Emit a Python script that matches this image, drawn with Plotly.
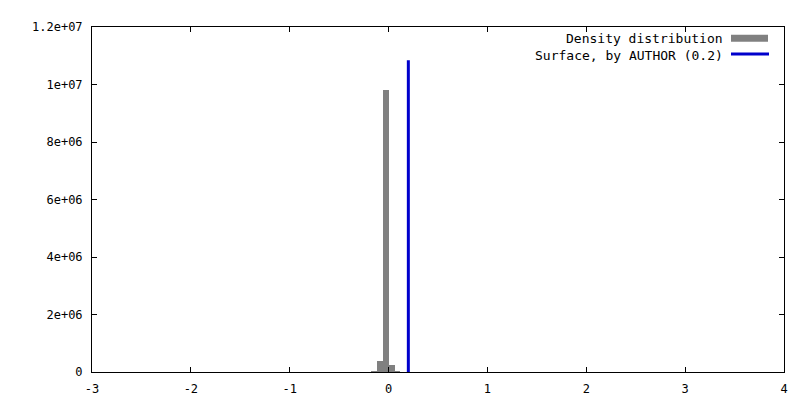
import plotly.graph_objects as go

# Histogram data (bin centers, counts)
bin_centers = [-0.15, -0.09, -0.03, 0.03, 0.09]
bin_counts = [3.0e4, 4.0e5, 9.81e6, 2.4e5, 3.0e4]
bin_width = 0.06

# Surface marker line
surface_x = [0.2, 0.2]
surface_y = [0, 1.084e7]

x_ticks = [-3, -2, -1, 0, 1, 2, 3, 4]
x_tick_labels = ["-3", "-2", "-1", "0", "1", "2", "3", "4"]
y_ticks = [0, 2e6, 4e6, 6e6, 8e6, 1e7, 1.2e7]
y_tick_labels = ["0", "2e+06", "4e+06", "6e+06", "8e+06", "1e+07", "1.2e+07"]

legend_labels = ["Density distribution", "Surface, by AUTHOR (0.2)"]

FONT = "DejaVu Sans Mono"

fig = go.Figure()
fig.add_trace(go.Bar(x=bin_centers, y=bin_counts, width=[bin_width] * len(bin_centers),
                     marker=dict(color="#808080", line=dict(width=0)),
                     showlegend=False, name=legend_labels[0]))
fig.add_trace(go.Scatter(x=surface_x, y=surface_y, mode="lines",
                         line=dict(color="#0000cc", width=3),
                         showlegend=False, name=legend_labels[1]))

W, H = 800, 400
ml, mr, mt, mb = 84, 24, 16, 33
pw, ph = W - ml - mr, H - mt - mb

def px(x):
    return (x - ml) / pw

def py(y):
    return 1 - (y - mt) / ph

annotations = []
shapes = []
# legend row 1
annotations.append(dict(text=legend_labels[0], x=px(717), y=py(28), xref="paper", yref="paper",
                        xanchor="right", yanchor="middle", showarrow=False,
                        font=dict(family=FONT, size=13, color="black")))
shapes.append(dict(type="rect", xref="paper", yref="paper", x0=px(723), x1=px(760),
                   y0=py(31), y1=py(24), fillcolor="#808080", line=dict(width=0)))
# legend row 2
annotations.append(dict(text=legend_labels[1], x=px(717), y=py(44.5), xref="paper", yref="paper",
                        xanchor="right", yanchor="middle", showarrow=False,
                        font=dict(family=FONT, size=13, color="black")))
shapes.append(dict(type="line", xref="paper", yref="paper", x0=px(723), x1=px(761),
                   y0=py(43.5), y1=py(43.5), line=dict(color="#0000cc", width=3)))

fig.update_layout(
    width=W, height=H,
    margin=dict(l=ml, r=mr, t=mt, b=mb),
    paper_bgcolor="white", plot_bgcolor="white",
    bargap=0,
    font=dict(family=FONT, size=12, color="black"),
    annotations=annotations,
    shapes=shapes,
    xaxis=dict(range=[-3, 4], tickvals=x_ticks, ticktext=x_tick_labels,
               showgrid=False, zeroline=False, showline=True, linecolor="black", linewidth=1,
               mirror="allticks", ticks="inside", ticklen=5, tickcolor="black",
               ticklabelstandoff=6,
               tickfont=dict(family=FONT, size=12)),
    yaxis=dict(range=[0, 1.2e7], tickvals=y_ticks, ticktext=y_tick_labels,
               showgrid=False, zeroline=False, showline=True, linecolor="black", linewidth=1,
               mirror="allticks", ticks="inside", ticklen=5, tickcolor="black",
               ticklabelstandoff=6,
               tickfont=dict(family=FONT, size=12)),
)

fig.write_html("out.html")
